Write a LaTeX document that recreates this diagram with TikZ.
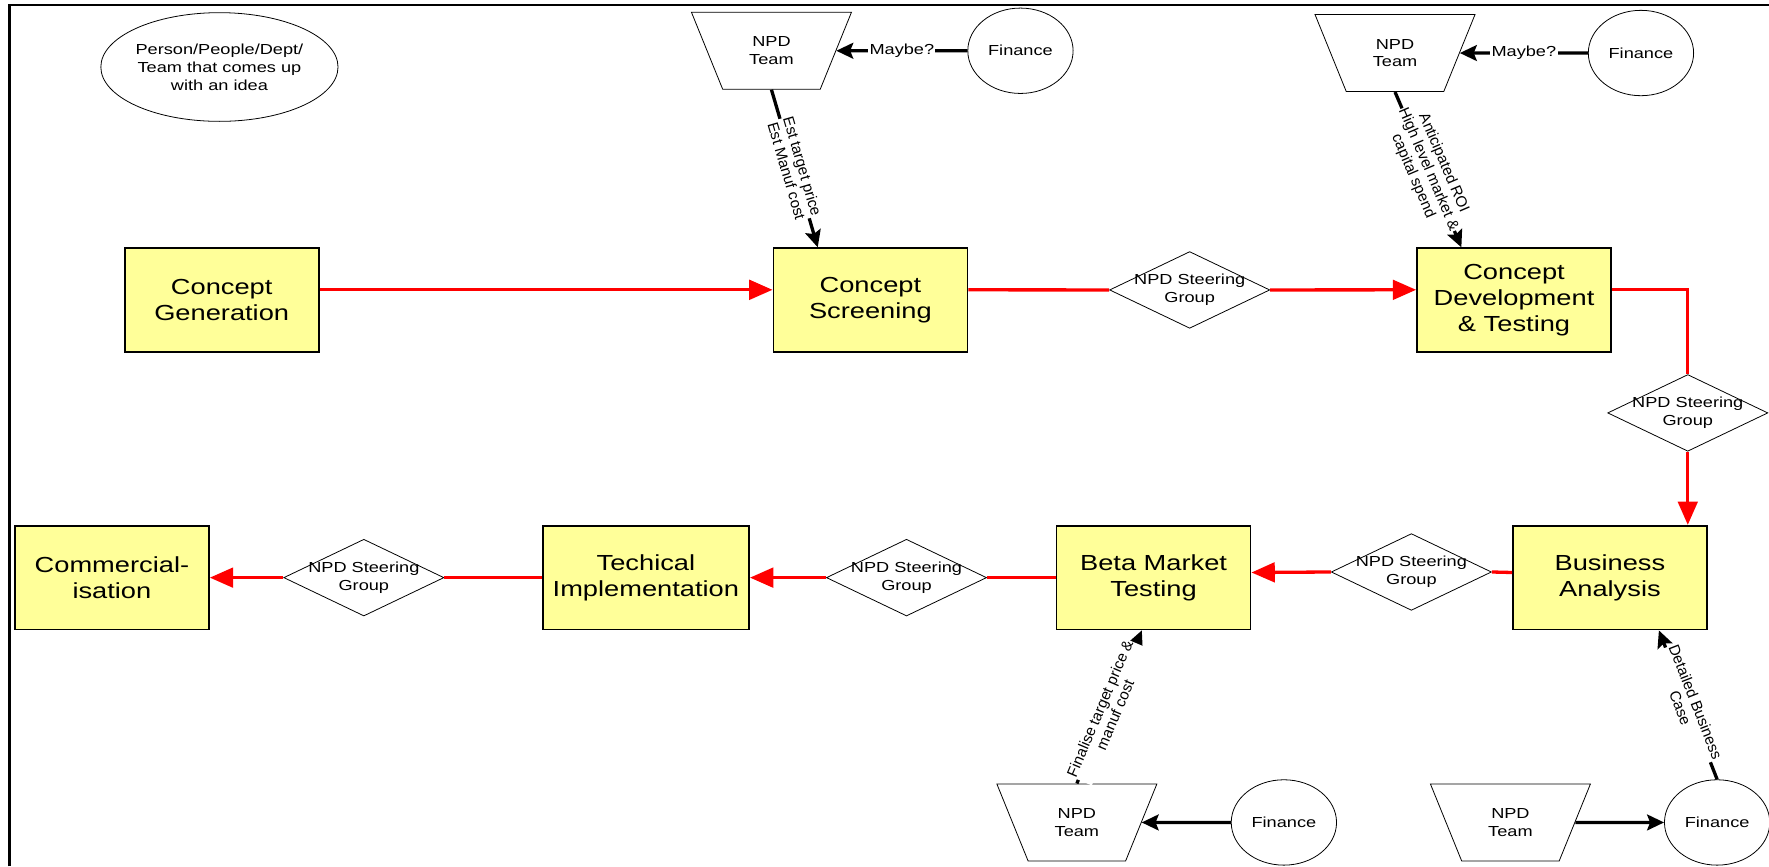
\documentclass[tikz,border=0pt]{standalone}
\usepackage{fontspec}
\setmainfont{Liberation Sans}[FakeStretch=1.25]
\newfontfamily\slopefamily{Liberation Sans}
\usetikzlibrary{arrows.meta, shapes.geometric, calc}
\definecolor{pale1}{RGB}{255,255,153}
\definecolor{red1}{RGB}{255,0,0}
\def\npdbox{\fontsize{16.5}{19.6}\selectfont}
\def\npdsmall{\fontsize{11}{13.5}\selectfont}
\def\npdslope{\slopefamily\fontsize{11.5}{12.5}\selectfont}

\begin{document}
\begin{tikzpicture}[x=0.03cm, y=-0.03cm,
    stage/.style={draw=black, fill=pale1, line width=1.3pt, minimum width=5.16cm, minimum height=2.76cm, align=center, font=\npdbox},
    gate/.style={diamond, draw=black, line width=0.6pt, minimum width=4.26cm, minimum height=2.04cm, inner sep=0pt,
        label={[font=\npdsmall, align=center]center:{NPD Steering\\Group}}},
    team/.style={trapezium, draw=black, line width=0.6pt, trapezium left angle=63, trapezium right angle=63,
        shape border rotate=180, trapezium stretches=true, minimum width=4.26cm, minimum height=2.05cm,
        inner sep=0pt, align=center, font=\npdsmall},
    fin/.style={ellipse, draw=black, line width=0.6pt, minimum width=2.8cm, minimum height=2.27cm, inner sep=0pt, font=\npdsmall},
    idea/.style={ellipse, draw=black, line width=0.6pt, minimum width=5.37cm, minimum height=2.89cm, inner sep=0pt, align=center, font=\npdsmall},
    flowline/.style={draw=red1, line width=2.5pt},
    flow/.style={flowline, -{Triangle[length=0.62cm, width=0.52cm]}},
    info/.style={draw=black, line width=2.5pt, -{Stealth[length=0.45cm, width=0.42cm, inset=0.08cm]}},
    note/.style={sloped, fill=white, inner sep=0.5pt, align=center, font=\npdslope},
    tag/.style={fill=white, inner sep=1pt, font=\npdsmall}
]
    \useasboundingbox (0,0) rectangle (1568,768);
    % frame
    \draw[line width=2.2pt] (8.7,768) -- (8.7,4.4) -- (1568,4.4);

    \node[idea] (idea) at (194.5,59.4) {Person/People/Dept/\\Team that comes up\\with an idea};

    % stages
    \node[stage] (cg) at (196.5,266) {Concept\\Generation};
    \node[stage] (cs) at (771.5,266) {Concept\\Screening};
    \node[stage] (cdt) at (1342,266) {Concept\\Development\\\& Testing};
    \node[stage] (ba) at (1427,512) {Business\\Analysis};
    \node[stage] (beta) at (1022.5,512) {Beta Market\\Testing};
    \node[stage, minimum width=5.49cm] (ti) at (572.5,512) {Techical\\Implementation};
    \node[stage] (comm) at (99.2,512) {Commercial-\\isation};

    % steering group gates
    \foreach \n/\x/\y in {1/1054.5/257, 2/1496/366, 3/1251/507, 4/803.5/512, 5/322.5/512}
    {
        \node[gate, name=d\n] at (\x,\y) {};
    };

    % NPD teams and finance
    \foreach \n/\x/\y in {1/683.8/45, 2/1236.5/47, 3/954.5/729, 4/1338.8/729}
    {
        \node[team, name=npd\n] at (\x,\y) {NPD\\Team};
    };
    \foreach \n/\x/\y in {1/904.5/45, 2/1454.5/47, 3/1138/729, 4/1522/729}
    {
        \node[fin, name=fin\n] at (\x,\y) {Finance};
    };

    % main flow
    \draw[flow] (cg.6) -- (cs.174);
    \draw[flowline] (cs.6) -- (d1.west);
    \draw[flow] (d1.east) -- (cdt.174);
    \draw[flowline] (cdt.6) -| (d2.north);
    \draw[flow] (d2.south) -- (d2.south |- ba.north);
    \draw[flowline] (ba.177) -- (d3.east);
    \draw[flow] (d3.west) -- (beta.3);
    \draw[flowline] (beta.west) -- (d4.east);
    \draw[flow] (d4.west) -- (ti.east);
    \draw[flowline] (ti.west) -- (d5.east);
    \draw[flow] (d5.west) -- (comm.east);

    % inputs
    \draw[info] (fin1) -- node[tag] {Maybe?} (npd1);
    \draw[info] (fin2) -- node[tag] {Maybe?} (npd2);
    \draw[info] (fin3) -- (npd3);
    \draw[info] (npd4) -- (fin4);
    \draw[info] (npd1.south) -- node[note] {Est target price\\Est Manuf cost} ($(cs.north west)!0.231!(cs.north east)$);
    \draw[info] (npd2.south) -- node[note] {Anticipated ROI\\High level market \&\\capital spend} ($(cdt.north west)!0.231!(cdt.north east)$);
    \draw[info] (npd3.north) -- node[note, pos=0.47] {Finalise target price \&\\manuf cost} ($(beta.south west)!0.44!(beta.south east)$);
    \draw[info] (fin4.north) -- node[note] {Detailed Business\\Case} ($(ba.south west)!0.75!(ba.south east)$);
\end{tikzpicture}
\end{document}
